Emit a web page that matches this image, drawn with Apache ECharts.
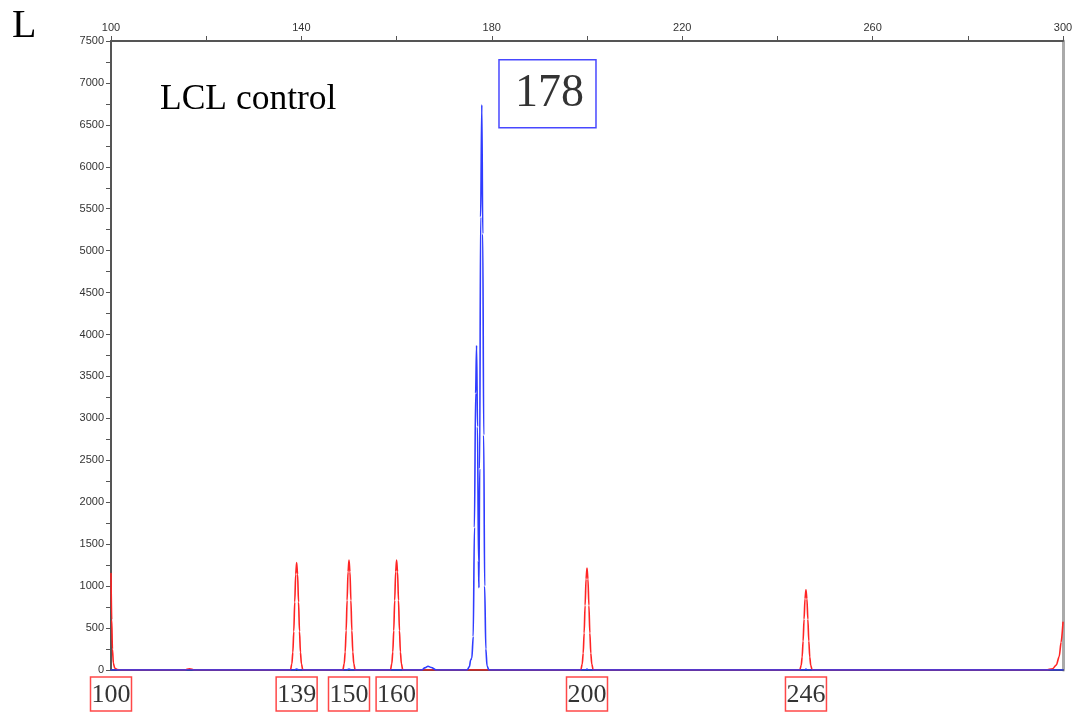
<!DOCTYPE html>
<html><head><meta charset="utf-8">
<script src="https://cdn.jsdelivr.net/npm/echarts@6/dist/echarts.min.js"></script>
<style>html,body{margin:0;padding:0;background:#fff}#c{width:1081px;height:714px}</style>
</head><body><div id="c"></div>
<script>
const panelLetter = 'L';
const sampleName = 'LCL control';
const xRange = [100, 300];
const yRange = [0, 7500];
const sizeStandardLabels = [100, 139, 150, 160, 200, 246];
const alleleLabelPos = [191.7, 6870];
const alleleLabelText = '178';

// Size standard trace (red): [size, RFU]
const redTrace = [
  [100,1150],[100.15,600],[100.3,250],[100.5,80],[100.8,20],[101.3,5],[102,0],
  [115.5,0],[116.5,15],[117.5,0],
  [137.7,0],[138.0,75],[138.2,210],[138.4,460],[138.6,810],[138.8,1140],[139.0,1280],[139.2,1140],[139.4,810],[139.6,460],[139.8,210],[140.0,75],[140.3,0],
  [148.7,0],[149.0,77],[149.2,215],[149.4,470],[149.6,830],[149.8,1170],[150.0,1310],[150.2,1170],[150.4,830],[150.6,470],[150.8,215],[151.0,77],[151.3,0],
  [158.7,0],[159.0,77],[159.2,215],[159.4,470],[159.6,830],[159.8,1170],[160.0,1310],[160.2,1170],[160.4,830],[160.6,470],[160.8,215],[161.0,77],[161.3,0],
  [198.7,0],[199.0,72],[199.2,200],[199.4,440],[199.6,770],[199.8,1085],[200.0,1215],[200.2,1085],[200.4,770],[200.6,440],[200.8,200],[201.0,72],[201.3,0],
  [244.7,0],[245.0,56],[245.2,155],[245.4,345],[245.6,605],[245.8,850],[246.0,955],[246.2,850],[246.4,605],[246.6,345],[246.8,155],[247.0,56],[247.3,0],
  [296.5,0],[297.8,15],[298.6,60],[299.2,160],[299.6,330],[300,570]
];

// Sample trace (blue): [size, RFU]
const blueTrace = [
  [100,0],[138.6,0],[139.0,12],[139.4,0],[149.6,0],[150.0,12],[150.4,0],
  [165.3,0],[165.9,25],[166.6,45],[167.3,30],[168.3,0],
  [174.8,0],[175.3,40],[175.55,120],[175.8,140],[176.1,400],[176.35,1700],[176.6,3300],[176.8,3870],
  [177.0,2900],[177.2,1300],[177.3,980],[177.45,2400],[177.65,5400],[177.9,6740],[178.1,5200],
  [178.3,2800],[178.5,1000],[178.75,250],[179.0,50],[179.4,0],
  [199.8,0],[200.0,10],[200.2,0],[245.8,0],[246.0,10],[246.2,0],[300,0]
];

const chart = echarts.init(document.getElementById('c'), null, {renderer:'canvas'});
const axisFont = {fontFamily:'Liberation Sans, Arial, sans-serif', fontSize:11, color:'#333'};
chart.setOption({
  animation:false,
  backgroundColor:'#fff',
  grid:{left:111, right:18, top:41, bottom:44},
  graphic:[
    {type:'text', left:12, top:6, style:{text:panelLetter, font:'40px "Liberation Serif"', fill:'#000'}},
    {type:'text', x:160, y:100, style:{text:sampleName, font:'35.5px "Liberation Serif"', fill:'#000', verticalAlign:'middle'}}
  ],
  xAxis:[
    {type:'value', position:'top', min:xRange[0], max:xRange[1], interval:20,
     axisLine:{show:true, onZero:false, lineStyle:{color:'#555', width:2}},
     axisTick:{show:true, length:5, lineStyle:{color:'#555'}},
     axisLabel:Object.assign({margin:8, formatter:v=>((v-100)%40===0?String(v):'')}, axisFont),
     splitLine:{show:false}},
    {type:'value', position:'bottom', min:xRange[0], max:xRange[1],
     axisLine:{show:true, onZero:false, lineStyle:{color:'#444', width:2}},
     axisTick:{show:false}, axisLabel:{show:false}, splitLine:{show:false}}
  ],
  yAxis:[
    {type:'value', position:'left', min:yRange[0], max:yRange[1], interval:250,
     axisLine:{show:true, onZero:false, lineStyle:{color:'#555', width:2}},
     axisTick:{show:true, length:5, lineStyle:{color:'#555'}},
     axisLabel:Object.assign({margin:7, formatter:v=>(v%500===0?String(v):'')}, axisFont),
     splitLine:{show:false}},
    {type:'value', position:'right', min:yRange[0], max:yRange[1],
     axisLine:{show:true, onZero:false, lineStyle:{color:'#aaa', width:3}},
     axisTick:{show:false}, axisLabel:{show:false}, splitLine:{show:false}}
  ],
  series:[
    {type:'line', name:'size standard', data:redTrace, xAxisIndex:0, yAxisIndex:0,
     symbol:'none', showSymbol:false, smooth:0.3, smoothMonotone:'x',
     lineStyle:{color:'#ff2424', width:1.6, join:'round', cap:'round'}, z:3},
    {type:'line', name:'sample', data:blueTrace, xAxisIndex:0, yAxisIndex:0,
     symbol:'none', showSymbol:false, smooth:0.3, smoothMonotone:'x',
     lineStyle:{color:'#2f3cff', width:1.6, join:'round', cap:'round'}, z:4},
    {type:'scatter', name:'size labels', xAxisIndex:0, yAxisIndex:0, clip:false,
     data:sizeStandardLabels.map(v=>[v,0]), symbolSize:0, z:5,
     label:{show:true, position:'bottom', distance:7, formatter:p=>String(p.value[0]),
       fontFamily:'Liberation Serif', fontSize:26, lineHeight:30, color:'#000',
       borderColor:'#ff1a1a', borderWidth:1.5, padding:[3,1,1,1]}},
    {type:'scatter', name:'allele label', xAxisIndex:0, yAxisIndex:0, clip:false,
     data:[alleleLabelPos], symbolSize:0, z:5,
     label:{show:true, position:'inside', formatter:alleleLabelText,
       fontFamily:'Liberation Serif', fontSize:46, lineHeight:46, color:'#000',
       borderColor:'#1a1aff', borderWidth:1.5, padding:[11,12,11,16]}}
  ]
});
</script>
</body></html>
